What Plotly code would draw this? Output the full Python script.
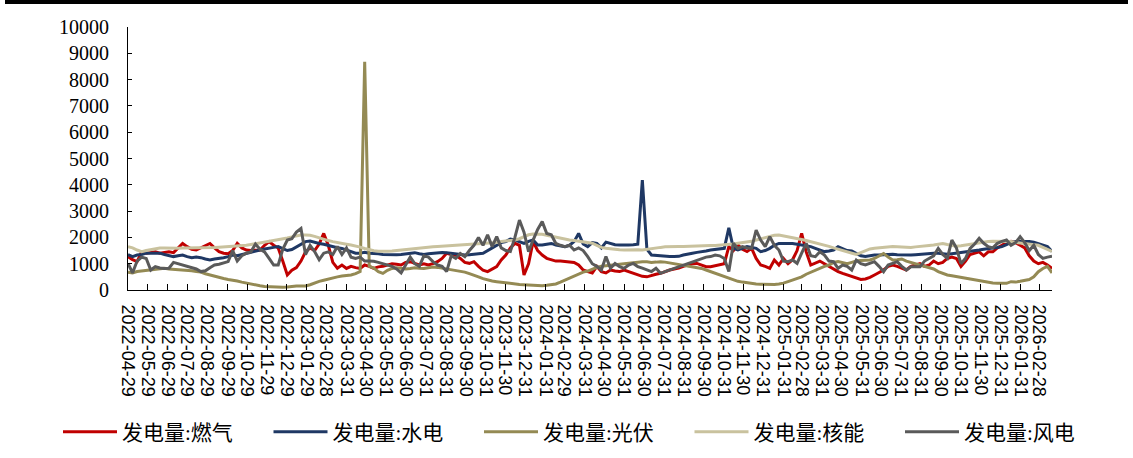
import pandas as pd
import plotly.graph_objects as go

# ---------------- data (weekly, starting 2022-04-29) ----------------
start_date = "2022-04-29"

series_names = ["发电量:燃气", "发电量:水电", "发电量:光伏", "发电量:核能", "发电量:风电"]

gas = [
    1270, 1150, 1080, 1450, 1400, 1420, 1450, 1400, 1420, 1450,
    1420, 1600, 1770, 1650, 1550, 1520, 1600, 1700, 1770, 1600,
    1457, 1400, 1380, 1500, 1770, 1600, 1520, 1500, 1500, 1520,
    1700, 1838, 1700, 1600, 1100, 570, 750, 850, 1100, 1450,
    1600, 1500, 1750, 2150, 1700, 1050, 830, 950, 820, 900,
    850, 820, 950, 900, 820, 880, 900, 950, 1000, 980,
    950, 1050, 1077, 1010, 950, 1000, 950, 1000, 1077, 1200,
    1394, 1350, 1330, 1200, 1050, 1014, 1077, 900, 750, 697,
    800, 887, 1140, 1330, 1600, 1774, 1700, 570, 1000, 1838,
    1500, 1330, 1204, 1150, 1100, 1100, 1080, 1050, 1050, 950,
    760, 700, 650, 900, 700, 650, 760, 720, 700, 760,
    700, 634, 580, 520, 500, 560, 600, 634, 700, 760,
    800, 830, 900, 950, 1000, 1010, 950, 887, 887, 920,
    950, 1000, 1650, 1500, 1710, 1550, 1460, 1584, 1200, 950,
    900, 824, 1140, 950, 1200, 1000, 1150, 1500, 2150, 1450,
    950, 1010, 1100, 1000, 900, 824, 700, 634, 570, 500,
    443, 400, 420, 480, 570, 650, 760, 900, 950, 900,
    820, 760, 900, 950, 1000, 900, 950, 1100, 1000, 1050,
    1200, 1250, 1200, 900, 1100, 1350, 1400, 1450, 1300, 1450,
    1450, 1600, 1700, 1800, 1850, 1800, 1700, 1600, 1300, 1100,
    1000, 1050, 950, 820,
]

hydro = [
    1350, 1270, 1330, 1350, 1400, 1400, 1420, 1400, 1350, 1300,
    1270, 1300, 1330, 1270, 1230, 1250, 1230, 1180, 1140, 1180,
    1200, 1230, 1270, 1330, 1300, 1350, 1400, 1430, 1480, 1520,
    1560, 1580, 1620, 1650, 1580, 1500, 1540, 1650, 1740, 1840,
    1860, 1810, 1770, 1740, 1690, 1650, 1610, 1580, 1520, 1460,
    1400, 1400, 1430, 1400, 1400, 1380, 1350, 1340, 1330, 1340,
    1350, 1380, 1400, 1420, 1380, 1350, 1380, 1400, 1420, 1430,
    1420, 1400, 1380, 1350, 1330, 1340, 1350, 1380, 1400, 1500,
    1600, 1710, 1800, 1840, 1940, 1900, 1840, 1770, 1850, 1900,
    1710, 1710, 1740, 1770, 1710, 1690, 1650, 1700, 1840, 2150,
    1750, 1650, 1800, 1770, 1600, 1820, 1770, 1720, 1710, 1700,
    1710, 1720, 1740, 4180, 1550, 1330, 1310, 1300, 1280, 1270,
    1270, 1280, 1330, 1380, 1400, 1430, 1450, 1480, 1520, 1550,
    1560, 1584, 2360, 1584, 1520, 1600, 1650, 1620, 1584, 1460,
    1500, 1584, 1700, 1770, 1770, 1780, 1770, 1740, 1710, 1700,
    1650, 1584, 1520, 1460, 1480, 1520, 1650, 1560, 1500, 1480,
    1400, 1300, 1270, 1300, 1330, 1330, 1340, 1350, 1360, 1340,
    1330, 1330, 1330, 1340, 1360, 1380, 1394, 1394, 1394, 1380,
    1360, 1380, 1400, 1430, 1450, 1460, 1480, 1520, 1550, 1584,
    1600, 1620, 1650, 1720, 1810, 1840, 1840, 1850, 1840, 1820,
    1770, 1720, 1650, 1460,
]

solar = [
    680, 650, 700, 720, 760, 780, 800, 820, 824, 800,
    790, 780, 770, 760, 730, 700, 680, 620, 570, 520,
    480, 440, 400, 380, 340, 300, 260, 230, 190, 160,
    130, 120, 110, 100, 100, 110, 140, 150, 150, 150,
    200, 280, 330, 370, 420, 460, 500, 530, 550, 570,
    620, 700, 8680, 900, 830, 700, 630, 750, 820, 850,
    830, 800, 820, 850, 830, 820, 850, 870, 860, 830,
    800, 760, 720, 697, 680, 620, 570, 500, 430, 380,
    340, 317, 290, 270, 253, 230, 210, 200, 190, 180,
    175, 165, 180, 200, 230, 300, 380, 450, 520, 600,
    680, 720, 800, 860, 900, 920, 950, 960, 980, 1000,
    1010, 1040, 1060, 1077, 1070, 1050, 1060, 1077, 1060, 1030,
    1010, 980, 950, 920, 880, 850, 820, 760, 700, 620,
    560, 507, 440, 380, 330, 300, 270, 253, 230, 220,
    210, 200, 210, 230, 260, 320, 380, 430, 500, 600,
    680, 760, 820, 900, 950, 1050, 1080, 1050, 1000, 1050,
    1100, 1120, 1140, 1140, 1200, 1300, 1390, 1250, 1140, 1150,
    1180, 1100, 1050, 1000, 950, 900, 860, 800, 700, 634,
    570, 540, 507, 480, 443, 410, 380, 350, 317, 290,
    270, 253, 240, 253, 317, 300, 330, 380, 400, 500,
    697, 820, 900, 650,
]

nuclear = [
    1650, 1600, 1520, 1460, 1500, 1540, 1580, 1600, 1600, 1590,
    1580, 1590, 1600, 1600, 1600, 1610, 1620, 1620, 1620, 1620,
    1630, 1640, 1650, 1650, 1660, 1670, 1700, 1730, 1760, 1790,
    1810, 1840, 1870, 1900, 1940, 1980, 2020, 2060, 2090, 2090,
    2080, 2040, 1980, 1920, 1880, 1840, 1800, 1770, 1740, 1710,
    1680, 1630, 1580, 1520, 1490, 1470, 1460, 1470, 1480, 1500,
    1520, 1530, 1550, 1570, 1584, 1600, 1620, 1640, 1650, 1660,
    1680, 1690, 1700, 1710, 1720, 1740, 1750, 1760, 1770, 1770,
    1790, 1810, 1840, 1860, 1880, 1900, 1950, 2030, 2100, 2130,
    2130, 2120, 2080, 2040, 2000, 1960, 1930, 1900, 1880, 1860,
    1840, 1820, 1780, 1700, 1620, 1584, 1560, 1540, 1530, 1520,
    1530, 1540, 1530, 1520, 1550, 1584, 1600, 1620, 1640, 1650,
    1650, 1650, 1650, 1660, 1670, 1680, 1690, 1690, 1690, 1690,
    1700, 1720, 1740, 1750, 1780, 1800, 1820, 1850, 1900, 1950,
    2000, 2050, 2080, 2090, 2060, 2030, 1980, 1960, 1920, 1880,
    1840, 1790, 1750, 1710, 1660, 1600, 1550, 1500, 1450, 1400,
    1350, 1420, 1500, 1560, 1584, 1600, 1620, 1640, 1650, 1640,
    1630, 1620, 1620, 1640, 1650, 1660, 1690, 1710, 1740, 1770,
    1730, 1700, 1660, 1680, 1710, 1740, 1770, 1800, 1830, 1840,
    1850, 1850, 1860, 1860, 1840, 1810, 1790, 1770, 1750, 1720,
    1700, 1620, 1560, 1470,
]

wind = [
    1010, 650, 1100, 1250, 1200, 760, 890, 840, 820, 830,
    1050, 1000, 930, 890, 850, 800, 700, 730, 850, 950,
    980, 1020, 1080, 1500, 1100, 1300, 1400, 1450, 1750, 1550,
    1450, 1200, 950, 950, 1550, 1900, 1950, 2200, 2340, 1350,
    1700, 1460, 1150, 1400, 1450, 1350, 1650, 1350, 1600, 1250,
    1200, 1250, 1100, 1100, 1090, 1050, 1000, 950, 900, 800,
    650, 950, 1250, 1000, 900, 1300, 1250, 1080, 950, 900,
    700, 1300, 1200, 1390, 1270, 1500, 1700, 2000, 1700, 2100,
    1650, 2030, 1600, 1500, 1460, 2000, 2660, 2200, 1460, 1900,
    2300, 2600, 2150, 2100, 1770, 1700, 1650, 1700, 1520, 1600,
    1500, 1270, 1000, 900, 760, 1270, 824, 1010, 890, 824,
    950, 1010, 890, 830, 760, 700, 824, 634, 700, 760,
    824, 900, 950, 1010, 1080, 1150, 1200, 1250, 1270, 1330,
    1300, 1200, 700, 1774, 1580, 1650, 1600, 1580, 2280, 1900,
    1650, 2030, 1700, 1521, 1100, 1077, 1140, 1014, 1400, 1774,
    1300, 1267, 1457, 1330, 1100, 1077, 824, 950, 900, 760,
    1140, 1000, 950, 1000, 1077, 900, 697, 950, 1000, 1077,
    900, 760, 887, 887, 887, 1100, 1204, 1300, 1584, 1350,
    1204, 1900, 1600, 1000, 1204, 1584, 1750, 1964, 1774, 1650,
    1600, 1774, 1850, 1900, 1700, 1800, 2028, 1800, 1500, 1700,
    1350, 1200, 1250, 1280,
]

tick_labels = [
    "2022-04-29", "2022-05-29", "2022-06-29", "2022-07-29", "2022-08-29",
    "2022-09-29", "2022-10-29", "2022-11-29", "2022-12-29", "2023-01-29",
    "2023-02-28", "2023-03-31", "2023-04-30", "2023-05-31", "2023-06-30",
    "2023-07-31", "2023-08-31", "2023-09-30", "2023-10-31", "2023-11-30",
    "2023-12-31", "2024-01-31", "2024-02-29", "2024-03-31", "2024-04-30",
    "2024-05-31", "2024-06-30", "2024-07-31", "2024-08-31", "2024-09-30",
    "2024-10-31", "2024-11-30", "2024-12-31", "2025-01-31", "2025-02-28",
    "2025-03-31", "2025-04-30", "2025-05-31", "2025-06-30", "2025-07-31",
    "2025-08-31", "2025-09-30", "2025-10-31", "2025-11-30", "2025-12-31",
    "2026-01-31", "2026-02-28",
]

colors = ["#C00000", "#1F3864", "#948A54", "#C9C29E", "#5A5A5A"]

# ---------------- figure ----------------
dates = pd.date_range(start_date, periods=len(gas), freq="7D")
all_series = [gas, hydro, solar, nuclear, wind]

fig = go.Figure()
for name, vals, col in zip(series_names, all_series, colors):
    fig.add_trace(go.Scatter(
        x=dates, y=vals, name=name, mode="lines",
        line=dict(color=col, width=3),
    ))

W, H = 1133, 458
L, R, T, B = 128, 81, 27, 168
pw, ph = W - L - R, H - T - B

def px_x(p):
    return (p - L) / pw

def px_y(p):
    return (H - B - p) / ph

fig.update_layout(
    width=W, height=H,
    margin=dict(l=L, r=R, t=T, b=B, autoexpand=False),
    paper_bgcolor="white", plot_bgcolor="white",
    showlegend=True,
    legend=dict(
        orientation="h",
        x=px_x(58), xanchor="left",
        y=px_y(432), yanchor="middle",
        font=dict(family="Liberation Serif, Noto Sans CJK SC", size=21, color="black"),
        entrywidth=141.5, entrywidthmode="pixels",
        itemwidth=54,
        bgcolor="rgba(0,0,0,0)",
    ),
    xaxis=dict(
        type="date",
        range=[dates[0], dates[-1]],
        tickmode="array",
        tickvals=tick_labels,
        ticktext=tick_labels,
        tickangle=90,
        ticks="inside", ticklen=6, tickcolor="black", tickwidth=1,
        showline=True, linecolor="black", linewidth=1,
        showgrid=False, zeroline=False,
        tickfont=dict(family="Liberation Sans", size=18, color="black"),
        ticklabelstandoff=10,
        automargin=False,
    ),
    yaxis=dict(
        range=[0, 10000],
        tickmode="linear", tick0=0, dtick=1000,
        tickformat="d",
        ticks="inside", ticklen=4, tickcolor="black", tickwidth=1,
        showline=True, linecolor="black", linewidth=1,
        showgrid=False, zeroline=False,
        tickfont=dict(family="Liberation Serif", size=20, color="black"),
        ticklabelstandoff=14,
        automargin=False,
    ),
    shapes=[dict(
        type="line", xref="paper", yref="paper",
        x0=px_x(5), x1=px_x(1128), y0=px_y(2), y1=px_y(2),
        line=dict(color="black", width=4),
    )],
)

fig.write_html(
    "out.html",
    config={"displayModeBar": False},
    post_script="document.body.style.margin='0';",
)
